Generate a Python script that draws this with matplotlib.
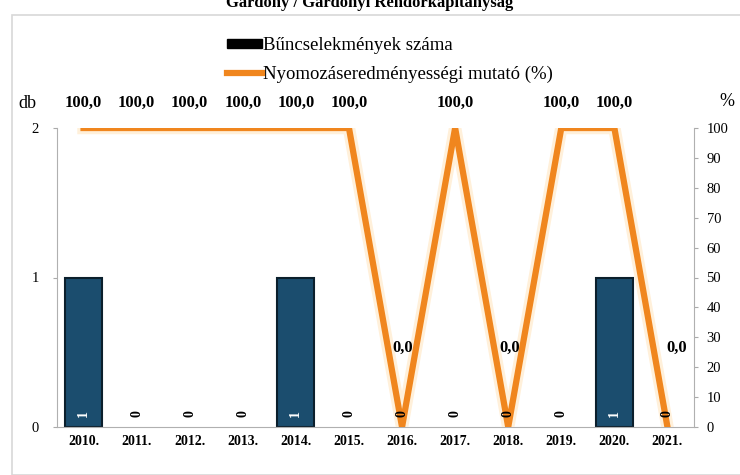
import matplotlib.pyplot as plt
from matplotlib.patches import Patch, Rectangle
from matplotlib.lines import Line2D

years = ['2010.', '2011.', '2012.', '2013.', '2014.', '2015.',
         '2016.', '2017.', '2018.', '2019.', '2020.', '2021.']
crimes = [1, 0, 0, 0, 1, 0, 0, 0, 0, 0, 1, 0]
rate = [100, 100, 100, 100, 100, 100, 0, 100, 0, 100, 100, 0]
rate_labels = ['100,0', '100,0', '100,0', '100,0', '100,0', '100,0',
               '0,0', '100,0', '0,0', '100,0', '100,0', '0,0']

plt.rcParams['font.family'] = ['Liberation Serif', 'DejaVu Serif']

fig = plt.figure(figsize=(7.4, 4.75), dpi=100)
W, H = 740.0, 475.0

# outer chart frame
fig.patches.append(Rectangle((12 / W, 0), 1.0, 1 - 15 / H, transform=fig.transFigure,
                             fill=False, edgecolor='#d8d8d8', lw=1.2))

fig.text(370 / W, 1 - 3 / H, 'Gárdony / Gárdonyi Rendőrkapitányság',
         ha='center', va='center', fontsize=12, fontweight='bold')

ax = fig.add_axes([57 / W, 1 - 427 / H, (694 - 57) / W, (427 - 128) / H])
x = list(range(len(years)))

edge_w = [1.5 if v > 0 else 0 for v in crimes]
ax.bar(x, crimes, width=0.7, color='#1b4d6e', edgecolor='#0b1f2c', linewidth=edge_w, zorder=2)
ax.set_xlim(-0.5, len(years) - 0.5)
ax.set_ylim(0, 2)
ax.set_yticks([0, 1, 2])
ax.set_xticks(x)
ax.set_xticklabels(years, fontweight='bold', fontsize=10)
ax.tick_params(axis='x', length=0, pad=6)
ax.tick_params(axis='y', length=3, color='#aaaaaa', labelsize=10.5, pad=10)
for s in ['top', 'right']:
    ax.spines[s].set_visible(False)
for s in ['left', 'bottom']:
    ax.spines[s].set_color('#b0b0b0')

ax2 = ax.twinx()
ax2.set_ylim(0, 100)
ax2.set_yticks(range(0, 101, 10))
ax2.tick_params(axis='y', length=3, color='#aaaaaa', labelsize=10.5, pad=6)
for s in ['top', 'left', 'bottom']:
    ax2.spines[s].set_visible(False)
ax2.spines['right'].set_color('#b0b0b0')

ax2.plot(x, rate, color='#fff0da', lw=9, solid_joinstyle='miter', zorder=3)
ax2.plot(x, rate, color='#f0861e', lw=4.5, solid_joinstyle='miter', zorder=4)

# rotated bar value labels near the base (drawn on top of the line)
for xi, v in zip(x, crimes):
    ax2.text(xi, 4.5, str(v), rotation=90, ha='center', va='center',
             fontsize=10, fontweight='bold', color='white' if v > 0 else 'black', zorder=6)

for xi, v, lab in zip(x, rate, rate_labels):
    if v == 100:
        ax2.text(xi, 108.5, lab, ha='center', va='center', fontsize=12,
                 fontweight='bold', clip_on=False)
    else:
        dx = 0.17 if xi == len(years) - 1 else 0.02
        ax2.text(xi + dx, 26.5, lab, ha='center', va='center', fontsize=12,
                 fontweight='bold', zorder=6)

fig.text(27 / W, 1 - 103 / H, 'db', ha='center', va='center', fontsize=13)
fig.text(727 / W, 1 - 101 / H, '%', ha='center', va='center', fontsize=13)

handles = [Patch(facecolor='black', edgecolor='black'),
           Line2D([0], [0], color='#f0861e', lw=4.5)]
fig.legend(handles, ['Bűncselekmények száma', 'Nyomozáseredményességi mutató (%)'],
           loc='center', bbox_to_anchor=(390 / W, 1 - 60 / H), frameon=False,
           fontsize=13.5, handlelength=1.9, handletextpad=0.05, labelspacing=0.6,
           handleheight=0.4)

fig.savefig('out.png', dpi=100)
